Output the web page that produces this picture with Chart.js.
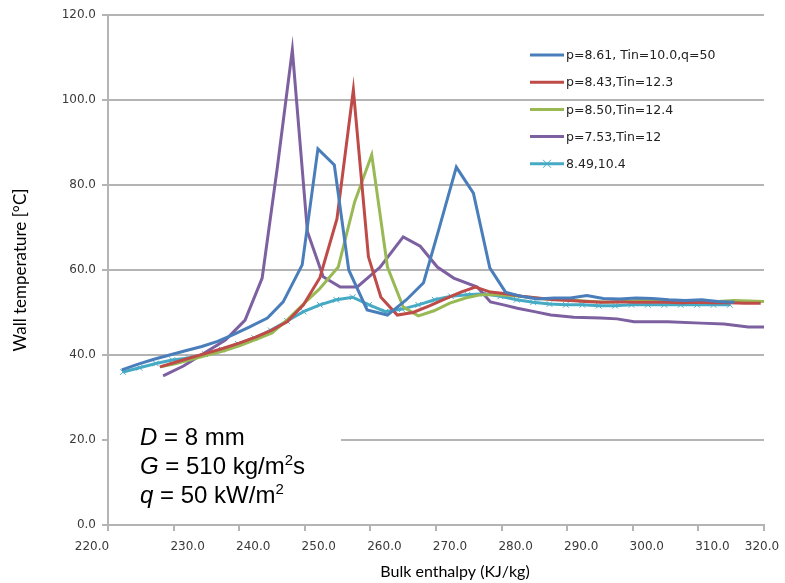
<!DOCTYPE html>
<html>
<head>
<meta charset="utf-8">
<script src="https://cdn.jsdelivr.net/npm/chart.js@4.4.1/dist/chart.umd.min.js"></script>
<style>
    html, body { margin: 0; padding: 0; background: #ffffff; }
    #wrap { width: 785px; height: 583px; position: relative; }
</style>
</head>
<body>
<div id="wrap"><canvas id="chart"></canvas></div>
<script>
// axis ticks
var xTickValues = [220, 230, 240, 250, 260, 270, 280, 290, 300, 310, 320];
var yTickValues = [0, 20, 40, 60, 80, 100, 120];

// legend labels
var seriesLabels = ['p=8.61, Tin=10.0,q=50', 'p=8.43,Tin=12.3', 'p=8.50,Tin=12.4', 'p=7.53,Tin=12', '8.49,10.4'];

// p=8.61, Tin=10.0, q=50
var enthalpyA = [222.1, 224.5, 227.0, 229.4, 231.8, 234.3, 236.7, 239.1, 241.6, 244.3, 246.7, 249.6, 252.0, 254.5, 256.7, 259.5, 262.6, 265.5, 268.1, 270.4, 273.1, 275.7, 278.2, 280.6, 283.0, 285.5, 288.0, 290.5, 293.0, 295.5, 298.0, 300.5, 303.0, 305.5, 308.0, 310.5, 313.0, 315.5];
var tempA = [36.5, 37.8, 39.0, 40.0, 41.0, 42.0, 43.2, 44.8, 46.6, 48.7, 52.5, 61.2, 88.5, 84.7, 60.0, 50.6, 49.4, 53.0, 57.0, 69.4, 84.2, 78.1, 60.5, 54.8, 53.8, 53.2, 53.4, 53.4, 54.0, 53.3, 53.2, 53.4, 53.3, 53.0, 52.8, 53.0, 52.6, 52.4];

// p=8.43, Tin=12.3
var enthalpyB = [227.9, 230.3, 232.7, 235.2, 237.6, 240.0, 242.5, 244.9, 247.3, 249.8, 252.3, 254.9, 257.4, 259.7, 261.6, 264.1, 266.5, 268.9, 271.4, 273.8, 276.0, 278.3, 280.7, 283.1, 285.5, 288.0, 290.4, 292.8, 295.2, 297.7, 300.1, 302.5, 305.0, 307.4, 309.8, 312.2, 314.7, 317.1, 319.5];
var tempB = [37.2, 38.3, 39.4, 40.5, 41.6, 42.8, 44.2, 45.8, 47.8, 51.8, 58.2, 72.0, 102.4, 63.1, 53.6, 49.4, 50.0, 51.5, 53.2, 54.8, 56.0, 54.8, 54.4, 53.8, 53.4, 53.0, 52.8, 52.6, 52.4, 52.5, 52.4, 52.4, 52.4, 52.3, 52.4, 52.3, 52.3, 52.2, 52.2];

// p=8.50, Tin=12.4
var enthalpyC = [228.0, 230.4, 232.8, 235.2, 237.7, 240.1, 242.5, 245.0, 247.4, 249.8, 252.2, 255.1, 257.6, 260.2, 262.6, 265.0, 267.3, 269.7, 272.1, 274.5, 276.9, 279.3, 281.7, 284.1, 286.5, 289.0, 291.4, 293.8, 296.2, 298.6, 301.0, 303.4, 305.8, 308.2, 310.6, 313.0, 315.4, 317.8, 320.2];
var tempC = [37.2, 38.0, 39.0, 40.0, 41.0, 42.2, 43.6, 45.2, 48.4, 52.0, 55.5, 60.7, 76.0, 87.1, 60.7, 51.3, 49.2, 50.4, 52.2, 53.4, 54.2, 54.2, 54.0, 53.6, 53.2, 53.0, 52.8, 52.6, 52.4, 52.6, 52.8, 52.8, 52.8, 52.6, 52.6, 52.6, 52.8, 52.7, 52.6];

// p=7.53, Tin=12
var enthalpyD = [228.4, 231.5, 234.2, 237.9, 240.9, 243.5, 245.8, 248.1, 250.4, 252.8, 255.4, 258.0, 261.5, 265.0, 267.6, 270.2, 272.7, 276.3, 278.3, 280.3, 282.4, 285.0, 287.5, 291.0, 295.1, 297.6, 300.2, 305.3, 310.4, 313.9, 317.6, 320.3];
var tempD = [35.1, 37.4, 40.0, 43.5, 48.2, 58.1, 84.0, 111.8, 69.0, 58.4, 56.0, 56.0, 60.7, 67.8, 65.6, 60.7, 58.1, 56.0, 52.5, 51.8, 51.0, 50.2, 49.4, 48.9, 48.7, 48.5, 47.8, 47.8, 47.5, 47.3, 46.6, 46.6];

// 8.49, 10.4
var enthalpyE = [222.3, 224.8, 227.3, 229.8, 232.3, 234.8, 237.3, 239.8, 242.3, 244.8, 247.3, 249.8, 252.3, 254.8, 257.3, 259.8, 262.3, 264.8, 267.3, 269.8, 272.3, 274.8, 277.3, 279.8, 282.3, 284.8, 287.3, 289.8, 292.3, 294.8, 297.3, 299.8, 302.3, 304.8, 307.3, 309.8, 312.3, 314.8];
var tempE = [36.0, 37.0, 38.0, 38.8, 39.3, 40.2, 41.3, 42.6, 44.0, 45.8, 48.0, 50.2, 51.8, 53.0, 53.6, 51.8, 50.2, 50.8, 51.8, 53.0, 53.8, 54.2, 54.4, 53.8, 53.0, 52.4, 52.0, 51.8, 51.8, 51.6, 51.6, 51.8, 51.8, 51.8, 51.8, 51.8, 51.8, 51.8];

var seriesColors = ['#4A7EBB', '#BE4B48', '#98B954', '#7D60A0', '#46AAC5'];

function toPoints(xs, ys) {
    return xs.map(function (x, i) { return { x: x, y: ys[i] }; });
}

var tickFont = '12px "DejaVu Sans"';
var tickColor = '#3A3A3A';
var gridColor = '#B4B4B4';

// box with D, G, q in the lower left corner
var infoBoxPlugin = {
    id: 'infoBox',
    beforeDatasetsDraw: function (chart) {
        var ctx = chart.ctx;
        var area = chart.chartArea;
        ctx.save();
        ctx.fillStyle = '#ffffff';
        ctx.fillRect(area.left + 1, 418, 232, 100);
        ctx.fillStyle = '#000000';
        ctx.textBaseline = 'alphabetic';
        var lines = [
            [['D', 'italic'], [' = 8 mm', '']],
            [['G', 'italic'], [' = 510 kg/m', ''], ['2', 'sup'], ['s', '']],
            [['q', 'italic'], [' = 50 kW/m', ''], ['2', 'sup']]
        ];
        var baseY = [445, 474, 503];
        lines.forEach(function (parts, li) {
            var x = 140;
            parts.forEach(function (p) {
                var y = baseY[li];
                if (p[1] === 'italic') {
                    ctx.font = 'italic 24px "Liberation Sans"';
                } else if (p[1] === 'sup') {
                    ctx.font = '15px "Liberation Sans"';
                    y -= 9;
                } else {
                    ctx.font = '24px "Liberation Sans"';
                }
                ctx.fillText(p[0], x, y);
                x += ctx.measureText(p[0]).width;
            });
        });
        ctx.restore();
    }
};

// legend inside plot, x tick labels and x title
var overlayPlugin = {
    id: 'overlay',
    afterDraw: function (chart) {
        var ctx = chart.ctx;
        var xScale = chart.scales.x;
        ctx.save();

        // x tick labels (Excel shifts them a little)
        ctx.font = tickFont;
        ctx.fillStyle = tickColor;
        ctx.textAlign = 'center';
        ctx.textBaseline = 'middle';
        xTickValues.forEach(function (v, i) {
            var shift = 14;
            if (i === 0) shift = -16;
            if (i === xTickValues.length - 1) shift = -2;
            ctx.fillText(v.toFixed(1), xScale.getPixelForValue(v) + shift, 547);
        });

        // x title
        ctx.font = '16px Lato';
        ctx.fillStyle = '#000000';
        ctx.fillText('Bulk enthalpy (KJ/kg)', 455, 572);

        // legend
        ctx.textAlign = 'left';
        ctx.font = '12.5px "DejaVu Sans"';
        chart.data.datasets.forEach(function (ds, i) {
            var y = 55 + i * 27.2;
            ctx.strokeStyle = ds.borderColor;
            ctx.lineWidth = 3;
            ctx.beginPath();
            ctx.moveTo(530, y);
            ctx.lineTo(564, y);
            ctx.stroke();
            if (ds.pointRadius > 0) {
                ctx.lineWidth = 1;
                ctx.beginPath();
                ctx.moveTo(543, y - 4);
                ctx.lineTo(551, y + 4);
                ctx.moveTo(551, y - 4);
                ctx.lineTo(543, y + 4);
                ctx.stroke();
            }
            ctx.fillStyle = '#222222';
            ctx.fillText(ds.label, 566, y + 1);
        });
        ctx.restore();
    }
};

var datasets = [
    { label: seriesLabels[0], data: toPoints(enthalpyA, tempA), borderColor: seriesColors[0], pointRadius: 0 },
    { label: seriesLabels[1], data: toPoints(enthalpyB, tempB), borderColor: seriesColors[1], pointRadius: 0 },
    { label: seriesLabels[2], data: toPoints(enthalpyC, tempC), borderColor: seriesColors[2], pointRadius: 0 },
    { label: seriesLabels[3], data: toPoints(enthalpyD, tempD), borderColor: seriesColors[3], pointRadius: 0 },
    {
        label: seriesLabels[4], data: toPoints(enthalpyE, tempE), borderColor: seriesColors[4],
        pointRadius: 4, pointStyle: 'crossRot', pointBorderColor: seriesColors[4], pointBorderWidth: 1
    }
];
datasets.forEach(function (ds) {
    ds.borderWidth = 3;
    ds.fill = false;
    ds.tension = 0;
    ds.backgroundColor = ds.borderColor;
});

new Chart(document.getElementById('chart').getContext('2d'), {
    type: 'line',
    data: { datasets: datasets },
    options: {
        responsive: true,
        maintainAspectRatio: false,
        animation: false,
        layout: { padding: { top: 15, right: 21, bottom: 0, left: 0 } },
        plugins: {
            legend: { display: false },
            tooltip: { enabled: false }
        },
        scales: {
            x: {
                type: 'linear',
                min: 220,
                max: 320,
                afterBuildTicks: function (scale) {
                    scale.ticks = xTickValues.map(function (v) { return { value: v }; });
                },
                afterFit: function (scale) { scale.height = 58; },
                ticks: { display: false },
                grid: {
                    drawOnChartArea: false,
                    drawTicks: true,
                    tickLength: 6,
                    color: gridColor,
                    lineWidth: 2
                },
                border: { color: gridColor, width: 2 }
            },
            y: {
                min: 0,
                max: 120,
                afterBuildTicks: function (scale) {
                    scale.ticks = yTickValues.map(function (v) { return { value: v }; });
                },
                afterFit: function (scale) { scale.width = 108; },
                ticks: {
                    font: { family: 'DejaVu Sans', size: 12 },
                    color: tickColor,
                    padding: 6,
                    callback: function (value) { return Number(value).toFixed(1); }
                },
                grid: {
                    color: gridColor,
                    lineWidth: 2,
                    tickLength: 6
                },
                border: { color: gridColor, width: 2 },
                title: {
                    display: true,
                    text: 'Wall temperature [°C]',
                    font: { family: 'Lato', size: 17 },
                    color: '#000000',
                    padding: { top: 10, bottom: 0 }
                }
            }
        }
    },
    plugins: [infoBoxPlugin, overlayPlugin]
});
</script>
</body>
</html>
